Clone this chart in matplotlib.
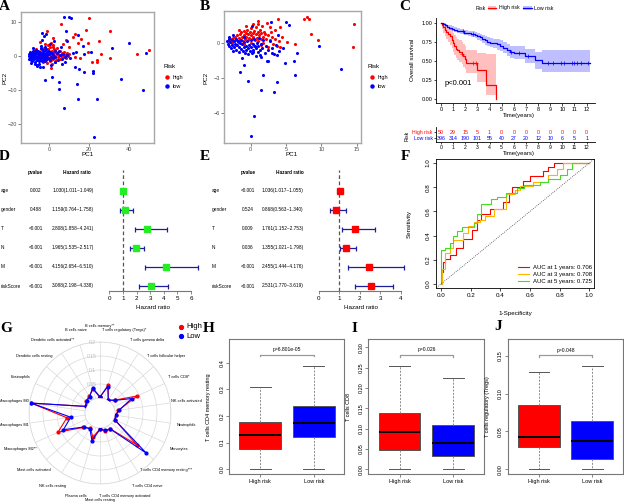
import numpy as np
import matplotlib
matplotlib.use('Agg')
import matplotlib.pyplot as plt
from matplotlib.lines import Line2D
from matplotlib.patches import Patch
from matplotlib.legend_handler import HandlerTuple
import matplotlib.transforms as mtransforms

plt.rcParams['font.family'] = ['Liberation Sans', 'DejaVu Sans']

# ---------------- DATA ----------------
# A: PCA (all genes)
a_high_x = [-8,-7.5,-7,-6.5,-6,-6,-5.5,-5,-5,-4.5,-4.2,-4,-3.8,-3.5,-3.2,-3,-2.8,-2.5,-2.3,-2,-2,-1.8,-1.5,-1.2,-1,-0.8,-0.5,-0.3,0,0,0.3,0.5,0.8,1,1.2,1.5,1.8,2,2.2,2.5,2.8,3,3.2,3.5,3.8,4,4.3,4.6,5,5.3,5.6,6,6.5,7,7.5,8,8.5,9,9.5,10,-1,1.5,-3,0.5,3,-6.5,-2,1,-0.5,2.5,-9,-8.5,
            6,20.2,18.3,30.5,13.2,16.2,25,19.3,14.3,19.7,26,24.2,24.2,30.5,44.2,49.8,21.3,11.8,10,8.5,7.2,2.2,-1.2,-4.5,-7,2.2,0.8,13,15.5,8.8,6.3]
a_high_y = [0.5,-0.5,1,0,-1,1.5,0.5,-0.5,1.2,0.2,-1.2,2,0.8,-0.3,1.5,0.3,-0.8,2.5,1,-0.2,0.6,1.8,-1,0.3,1.2,-0.4,2.2,0.5,-0.6,1.5,0.2,2.8,-1.2,0.8,-0.2,1.6,0.4,-0.8,3.2,0.9,-0.3,1.8,0.1,-1,0.6,2.4,-0.2,1.1,0.3,-0.9,1.4,0,0.7,-0.4,1.3,0.2,-0.6,0.9,-0.1,0.5,-2,-2.3,-1.8,-1.5,-1.6,2.2,3.5,4,3.2,2,0.2,-0.8,
            9.6,11.3,7.8,7.5,6.4,4.9,4.5,3.9,3.9,1.3,0.5,-1.2,-1.8,-0.7,0.5,1.8,-1.7,5.5,2.7,4.7,3.7,5.2,7.5,4.2,1.8,2.7,-3.6,-0.2,-0.7,0.3,0.8]
a_low_x = [-10,-10,-9.8,-9.5,-9.5,-9.2,-9,-8.8,-8.6,-8.5,-8.3,-8,-8,-7.8,-7.6,-7.5,-7.2,-7,-7,-6.8,-6.5,-6.5,-6.2,-6,-5.8,-5.5,-5.5,-5.2,-5,-4.8,-4.5,-4.5,-4.2,-4,-4,-3.8,-3.5,-3.5,-3.2,-3,-2.8,-2.5,-2.5,-2.2,-2,-1.8,-1.5,-1.5,-1.2,-1,-0.8,-0.5,-0.3,0,0.3,0.5,1,1.3,1.8,2.2,2.8,3.2,4,4.5,5.5,6.5,7.2,8,9,-9,-7,-5,-3,-6,-4,-2,0.5,-8,1,3,
           7.7,10.2,10.8,8.5,-3.3,-2.3,-1.5,14.7,8.8,17.2,13.5,17.5,20.8,40.2,31.7,48.5,2.7,5.2,11.8,13,14.8,17.5,21.8,22,-2,1.3,5.2,4.8,14,35.8,46.8,14.5,23.8,7.7,22.5,10.5,6.5,8,-4.5,-6.2,-3.7,6]
a_low_y = [0,-0.8,0.6,-0.3,1.2,-1.2,0.3,-0.6,1,0,-1.5,0.6,-0.3,1.6,-0.9,0.2,1.1,-0.5,-1.6,0.5,1.8,-0.2,-1.1,0.8,-0.6,1.5,0,-1.4,0.6,-0.4,1.2,-1,0.2,2.3,-0.6,1,-1.5,0.4,1.8,-0.2,0.9,-0.8,1.5,0.2,-1.3,0.7,2,-0.3,1.1,-0.9,0.3,1.6,-0.5,0.6,-1.2,1.2,-0.2,0.9,-0.6,0.4,1.5,-0.4,0.8,-1.2,0.2,-0.8,0.6,-0.2,0.4,-2,-2.4,-2.2,-3.2,-3,3,2.8,3.5,2.5,-2.5,-1.8,
           11.4,11.6,11.1,7.4,6.7,5.9,6.4,6.2,4.4,2.9,1.3,0.6,1.1,3.9,2.5,1.0,4.4,1.6,1.0,-3.1,-3.9,-4.6,-4.4,-4.9,-6.9,-6.3,-7.6,-9.6,-8.3,-6.8,-10,-12.6,-12.6,-15.4,-23.8,-0.7,-2.2,-1.7,-3.1,-2.6,4.7,2.7]

# B: PCA (model genes)
b_high_x = [-3,-2.8,-2.6,-2.5,-2.3,-2.2,-2,-1.9,-1.8,-1.7,-1.5,-1.5,-1.3,-1.2,-1.1,-1,-0.9,-0.8,-0.7,-0.6,-0.5,-0.4,-0.3,-0.2,-0.1,0,0.1,0.2,0.3,0.4,0.5,0.6,0.7,0.8,0.9,1,1.1,1.2,1.3,1.4,1.5,1.6,1.7,1.8,2,2.2,2.5,2.8,3,3.2,3.5,3.8,4,-2,-1,0,0.5,1.5,2.5,-0.6,0.3,1.0,-1.6,
            3.81,7.53,7.9,8.28,8.52,9.46,14.6,14.5,6.26,5.2,4.14,4.46,2.87,2.77,2.26,1.07,1.92,4.14,3.43]
b_high_y = [0.1,0.3,0,0.4,0.15,0.5,0.25,0.6,0.05,0.4,0.7,0.2,0.9,0.45,0.1,0.65,1.0,0.3,0.8,0.5,1.1,0.2,0.7,0.4,0.9,0.6,1.2,0.3,0.8,0.5,1.0,0.2,0.7,1.3,0.4,0.9,0.1,0.6,1.1,0.3,0.8,1.4,0.5,0.0,0.7,0.3,0.6,0.2,0.5,-0.1,0.3,-0.3,0.1,-0.2,-0.1,0.0,-0.3,-0.2,-0.4,1.4,1.6,1.8,1.1,
            2.0,2.0,2.19,1.97,0.73,0.2,1.55,-0.36,-0.11,0.08,-0.34,0.45,0.88,1.35,1.69,1.58,0.93,1.35,1.07]
b_low_x = [-3.3,-3.2,-3.1,-3,-2.9,-2.8,-2.7,-2.6,-2.5,-2.4,-2.3,-2.2,-2.1,-2,-1.9,-1.8,-1.7,-1.6,-1.5,-1.4,-1.3,-1.2,-1.1,-1,-0.9,-0.8,-0.7,-0.6,-0.5,-0.4,-0.3,-0.2,-0.1,0,0.1,0.2,0.3,0.4,0.5,0.6,0.7,0.8,0.9,1,1.1,1.2,1.3,1.4,1.5,1.6,1.8,2.0,2.2,2.5,2.8,3.0,3.3,3.6,4,-2.5,-1,-3,
           0.23,2.87,4.99,5.41,3.9,9.65,12.75,6.49,6.16,6.34,-1.51,-0.9,-0.43,1.78,1.41,3.34,3.76,0.47,0.0,2.26,2.49,4.85,4.52,2.97,1.31,-1.28,0.37,3.67]
b_low_y = [0.1,-0.1,0.3,-0.3,0.05,-0.5,0.2,-0.2,-0.7,0.1,-0.4,-0.1,0.3,-0.6,-0.2,0.15,-0.8,-0.35,0.0,-0.55,0.25,-0.15,-0.7,-0.4,0.05,-0.9,-0.25,-0.6,0.1,-0.45,-1.0,-0.2,-0.7,0.2,-0.4,-0.85,-0.1,-0.6,0.3,-0.3,-1.1,-0.5,0.0,-0.8,-0.3,0.4,-0.6,-1.2,-0.1,-0.5,0.2,-0.9,-0.3,-0.6,0.1,-0.5,-1.0,-0.2,-0.7,0.6,0.5,0.5,
           1.43,1.72,1.77,1.49,0.65,-0.28,-2.22,-0.9,-1.6,-2.73,-2.53,-1.88,-3.23,-2.75,-3.99,-4.22,-3.37,-6.24,-7.93,-1.54,-1.52,-1.74,-0.48,-0.9,-1.04,-1.32,-0.76,-1.04]

# C: Kaplan-Meier
high_t  = [0, 0.1, 0.2, 0.3, 0.45, 0.6, 0.75, 0.9, 1.0, 1.1, 1.2, 1.35, 1.5, 1.7, 1.85, 1.95, 2.05, 3.0, 3.75, 4.55]
high_s  = [1.0, 0.97, 0.94, 0.91, 0.88, 0.85, 0.82, 0.78, 0.74, 0.70, 0.66, 0.64, 0.62, 0.59, 0.56, 0.52, 0.48, 0.38, 0.19, 0.0]
high_lo = [1.0, 0.92, 0.87, 0.83, 0.79, 0.75, 0.71, 0.67, 0.62, 0.58, 0.54, 0.51, 0.49, 0.46, 0.42, 0.39, 0.34, 0.23, 0.06, 0.0]
high_hi = [1.0, 1.0, 1.0, 0.99, 0.97, 0.95, 0.93, 0.90, 0.87, 0.84, 0.81, 0.79, 0.77, 0.75, 0.72, 0.69, 0.65, 0.60, 0.59, 0.0]
low_t  = [0, 0.15, 0.3, 0.5, 0.7, 0.9, 1.1, 1.3, 1.6, 1.9, 2.2, 2.5, 2.8, 3.0, 3.2, 3.4, 3.6, 3.8, 4.0, 4.3, 4.6, 4.9, 5.1, 5.4, 5.7, 6.0, 6.9, 7.75, 8.3, 12.3]
low_s  = [1.0, 0.98, 0.965, 0.95, 0.935, 0.92, 0.905, 0.895, 0.885, 0.87, 0.86, 0.85, 0.84, 0.83, 0.81, 0.79, 0.77, 0.75, 0.74, 0.73, 0.72, 0.70, 0.67, 0.645, 0.62, 0.61, 0.565, 0.51, 0.475, 0.475]
low_lo = [1.0, 0.97, 0.95, 0.93, 0.91, 0.895, 0.88, 0.865, 0.85, 0.835, 0.82, 0.81, 0.795, 0.78, 0.76, 0.74, 0.715, 0.69, 0.68, 0.665, 0.65, 0.63, 0.60, 0.57, 0.54, 0.53, 0.47, 0.39, 0.35, 0.35]
low_hi = [1.0, 0.995, 0.985, 0.975, 0.965, 0.955, 0.94, 0.93, 0.92, 0.905, 0.895, 0.885, 0.88, 0.87, 0.855, 0.84, 0.82, 0.81, 0.80, 0.79, 0.785, 0.77, 0.745, 0.72, 0.70, 0.69, 0.66, 0.62, 0.645, 0.645]
high_cens = [1.7, 2.6, 2.9]
low_cens = [1.8, 2.6, 5.8, 6.4, 7.2, 8.8, 9.2, 9.9, 10.1, 10.8, 11.0, 11.2, 11.5, 12.1]
risk_times = list(range(13))
risk_high = [50, 29, 15, 5, 1, 0, 0, 0, 0, 0, 0, 0, 0]
risk_low = [396, 314, 190, 101, 55, 40, 27, 20, 12, 10, 6, 5, 1]

# D / E: forest plots
forest_names_d = ['age', 'gender', 'T', 'N', 'M', 'riskScore']
forest_p_d = ['0.002', '0.488', '<0.001', '<0.001', '<0.001', '<0.001']
forest_hr_d = [1.030, 1.159, 2.808, 1.965, 4.156, 3.088]
forest_lo_d = [1.011, 0.764, 1.858, 1.535, 2.654, 2.198]
forest_hi_d = [1.049, 1.758, 4.241, 2.517, 6.510, 4.338]
forest_names_e = ['age', 'gender', 'T', 'N', 'M', 'riskScore']
forest_p_e = ['<0.001', '0.524', '0.009', '0.036', '<0.001', '<0.001']
forest_hr_e = [1.036, 0.868, 1.761, 1.355, 2.455, 2.531]
forest_lo_e = [1.017, 0.563, 1.152, 1.021, 1.444, 1.770]
forest_hi_e = [1.055, 1.340, 2.753, 1.798, 4.176, 3.619]

# F: ROC
roc1_fpr = [0, 0.005, 0.005, 0.015, 0.015, 0.03, 0.03, 0.06, 0.06, 0.10, 0.10, 0.15, 0.15, 0.21, 0.21, 0.24, 0.24, 0.27, 0.27, 0.33, 0.33, 0.42, 0.42, 0.46, 0.46, 0.48, 0.48, 0.55, 0.55, 0.60, 0.60, 0.69, 0.69, 0.72, 0.72, 0.76, 0.76, 1.0]
roc1_tpr = [0, 0, 0.10, 0.10, 0.18, 0.18, 0.21, 0.21, 0.24, 0.24, 0.30, 0.30, 0.37, 0.37, 0.45, 0.45, 0.53, 0.53, 0.58, 0.58, 0.62, 0.62, 0.68, 0.68, 0.74, 0.74, 0.80, 0.80, 0.85, 0.85, 0.89, 0.89, 0.93, 0.93, 0.97, 0.97, 1.0, 1.0]
roc3_fpr = [0, 0.01, 0.01, 0.03, 0.03, 0.06, 0.06, 0.08, 0.08, 0.15, 0.15, 0.18, 0.18, 0.22, 0.22, 0.26, 0.26, 0.30, 0.30, 0.36, 0.36, 0.44, 0.44, 0.50, 0.50, 0.53, 0.53, 0.62, 0.62, 0.72, 0.72, 0.78, 0.78, 0.82, 0.82, 1.0]
roc3_tpr = [0, 0, 0.12, 0.12, 0.26, 0.26, 0.30, 0.30, 0.36, 0.36, 0.42, 0.42, 0.48, 0.48, 0.51, 0.51, 0.53, 0.53, 0.56, 0.56, 0.62, 0.62, 0.74, 0.74, 0.78, 0.78, 0.81, 0.81, 0.84, 0.84, 0.90, 0.90, 0.95, 0.95, 1.0, 1.0]
roc5_fpr = [0, 0, 0.03, 0.03, 0.06, 0.06, 0.08, 0.08, 0.11, 0.11, 0.14, 0.14, 0.22, 0.22, 0.24, 0.24, 0.27, 0.27, 0.34, 0.34, 0.38, 0.38, 0.44, 0.44, 0.51, 0.51, 0.56, 0.56, 0.67, 0.67, 0.72, 0.72, 0.80, 0.80, 0.85, 0.85, 0.88, 0.88, 1.0]
roc5_tpr = [0, 0.28, 0.28, 0.30, 0.30, 0.34, 0.34, 0.40, 0.40, 0.44, 0.44, 0.47, 0.47, 0.50, 0.50, 0.58, 0.58, 0.66, 0.66, 0.70, 0.70, 0.72, 0.72, 0.75, 0.75, 0.79, 0.79, 0.82, 0.82, 0.84, 0.84, 0.87, 0.87, 0.90, 0.90, 0.95, 0.95, 1.0, 1.0]
roc_labels = ['AUC at 1 years: 0.706', 'AUC at 3 years: 0.708', 'AUC at 5 years: 0.725']

# G: radar
cells = ['B cells memory**', 'T cells regulatory (Tregs)*', 'T cells gamma delta', 'T cells follicular helper',
         'T cells CD8*', 'NK cells activated', 'Neutrophils', 'Monocytes', 'T cells CD4 memory resting***',
         'T cells CD4 naive', 'T cells CD4 memory activated', 'Mast cells resting', 'Plasma cells',
         'NK cells resting', 'Mast cells activated', 'Macrophages M2**', 'Macrophages M1', 'Macrophages M0',
         'Eosinophils', 'Dendritic cells resting', 'Dendritic cells activated**', 'B cells naive']
radar_high = [0.002, 0.052, 0.001, 0.017, 0.093, 0.012, 0.003, 0.004, 0.120, 0.013, 0.015, 0.003, 0.036, 0.011, 0.025, 0.111, 0.066, 0.195, 0.003, 0.012, 0.018, 0.035]
radar_low  = [0.004, 0.045, 0.001, 0.015, 0.071, 0.015, 0.003, 0.004, 0.165, 0.015, 0.010, 0.005, 0.049, 0.013, 0.023, 0.090, 0.052, 0.195, 0.003, 0.010, 0.015, 0.040]

# H, I, J: boxplots (med, q1, q3, whislo, whishi) for High risk / Low risk
box_h_high = [0.129, 0.075, 0.176, 0.0, 0.309]
box_h_low  = [0.172, 0.122, 0.239, 0.0, 0.389]
box_i_high = [0.091, 0.0475, 0.138, 0.0, 0.255]
box_i_low  = [0.0655, 0.033, 0.109, 0.0, 0.224]
box_j_high = [0.043, 0.0298, 0.0847, 0.0, 0.1285]
box_j_low  = [0.0373, 0.0132, 0.0636, 0.0, 0.137]
box_groups = ['High risk', 'Low risk']

# ---------------- FIGURE ----------------
W, H = 624, 504
fig = plt.figure(figsize=(6.24, 5.04), dpi=100)

def rect(l, t, r, b):
    return [l / W, 1 - b / H, (r - l) / W, (b - t) / H]

def ftext(x, y, s, **kw):
    kw.setdefault('va', 'center')
    kw.setdefault('ha', 'center')
    return fig.text(x / W, 1 - y / H, s, **kw)

RED = '#FF0000'
BLUE = '#0000FF'
serif = ['Liberation Serif', 'DejaVu Serif']

for s, x, y in [('A', 4, 6), ('B', 205, 6), ('C', 405, 6), ('D', 4, 157), ('E', 205, 157),
                ('F', 405, 157), ('G', 6, 328), ('H', 209, 328), ('I', 354, 328), ('J', 498, 327)]:
    ftext(x, y, s, fontsize=11, fontweight='bold', family=serif)

# ---- A & B ----
def pca(r, hx, hy, lx, ly, xlim, ylim, xt, yt, xlab_pos, ylab_pos, leg_pos):
    ax = fig.add_axes(rect(*r))
    ax.scatter(hx, hy, s=5, c=RED, lw=0)
    ax.scatter(lx, ly, s=5, c=BLUE, lw=0)
    ax.set_xlim(*xlim); ax.set_ylim(*ylim)
    ax.set_xticks(xt); ax.set_yticks(yt)
    ax.tick_params(labelsize=4, length=2, width=0.5, color='#4D4D4D', labelcolor='#4D4D4D', pad=1)
    for sp in ax.spines.values():
        sp.set_color('#A8A8A8'); sp.set_linewidth(1.0)
    ftext(*xlab_pos, 'PC1', fontsize=4.5)
    ftext(*ylab_pos, 'PC2', fontsize=4.5, rotation=90)
    ftext(leg_pos[0], leg_pos[1], 'Risk', fontsize=4.5, ha='left')
    for k, (lab, col) in enumerate([('high', RED), ('low', BLUE)]):
        yy = leg_pos[1] + 10 + 9 * k
        fig.add_artist(Line2D([(leg_pos[0] + 4) / W], [1 - yy / H], marker='o', ms=2.2, color=col, lw=0,
                              transform=fig.transFigure))
        ftext(leg_pos[0] + 10, yy, lab, fontsize=4, ha='left')
    return ax

pca((21, 12, 154, 143), a_high_x, a_high_y, a_low_x, a_low_y, (-14, 52.5), (-25.6, 13),
    [0, 20, 40], [-20, -10, 0, 10], (88, 154), (5, 78), (163, 67))
pca((224, 11, 361, 143), b_high_x, b_high_y, b_low_x, b_low_y, (-3.76, 15.6), (-8.5, 2.67),
    [0, 5, 10, 15], [-6, -3, 0], (292, 154), (206, 78), (368, 67))

# ---- C ----
axc = fig.add_axes(rect(436, 18, 595, 103))
axc.fill_between(high_t, high_lo, high_hi, step='post', color=RED, alpha=0.25, lw=0)
axc.fill_between(low_t, low_lo, low_hi, step='post', color=BLUE, alpha=0.25, lw=0)
axc.step(high_t, high_s, where='post', color=RED, lw=0.9)
axc.step(low_t, low_s, where='post', color=BLUE, lw=0.9)
def surv_at(ts, ss, t):
    i = np.searchsorted(ts, t, side='right') - 1
    return np.array(ss)[i]
axc.plot(high_cens, surv_at(high_t, high_s, high_cens), '+', color=RED, ms=2.5, mew=0.5)
axc.plot(low_cens, surv_at(low_t, low_s, low_cens), '+', color=BLUE, ms=2.5, mew=0.5)
axc.set_xlim(-0.41, 12.69); axc.set_ylim(-0.048, 1.061)
axc.set_xticks(risk_times); axc.set_yticks([0, 0.25, 0.5, 0.75, 1.0])
axc.set_yticklabels(['0.00', '0.25', '0.50', '0.75', '1.00'])
axc.spines['top'].set_visible(False); axc.spines['right'].set_visible(False)
for sp in ['left', 'bottom']:
    axc.spines[sp].set_linewidth(0.6)
axc.tick_params(labelsize=4, length=1.8, width=0.5, pad=0.8)
axc.text(0.3, 0.2, 'p<0.001', fontsize=5.5, ha='left', va='center')
ftext(412, 60, 'Overall survival', fontsize=4.5, rotation=90)
ftext(519, 115.5, 'Time(years)', fontsize=4.3)
ftext(486, 8, 'Risk', fontsize=3.8, ha='right')
hh = [(Patch(color=RED, alpha=0.25, lw=0), Line2D([], [], color=RED, lw=0.9)),
      (Patch(color=BLUE, alpha=0.25, lw=0), Line2D([], [], color=BLUE, lw=0.9))]
fig.legend(hh, ['High risk', 'Low risk'], handler_map={tuple: HandlerTuple(ndivide=1)},
           loc='center left', bbox_to_anchor=(488 / W, 1 - 8 / H), ncol=2, frameon=False,
           fontsize=3.8, handlelength=1.6, handletextpad=0.4, columnspacing=0.8, borderaxespad=0, borderpad=0)

axt = fig.add_axes(rect(436, 127, 595, 142))
axt.set_xlim(-0.41, 12.69); axt.set_ylim(0, 1)
for t, n1, n2 in zip(risk_times, risk_high, risk_low):
    axt.text(t, 0.64, str(n1), color=RED, fontsize=3.8, ha='center', va='center')
    axt.text(t, 0.24, str(n2), color=BLUE, fontsize=3.8, ha='center', va='center')
axt.set_xticks(risk_times)
axt.set_yticks([0.64, 0.24]); axt.set_yticklabels(['High risk', 'Low risk'])
for lab, col in zip(axt.get_yticklabels(), [RED, BLUE]):
    lab.set_color(col)
axt.spines['top'].set_visible(False); axt.spines['right'].set_visible(False)
for sp in ['left', 'bottom']:
    axt.spines[sp].set_linewidth(0.6)
axt.tick_params(labelsize=3.7, length=1.5, width=0.5, pad=0.8)
ftext(519, 153.5, 'Time(years)', fontsize=4.3)
ftext(407, 136, 'Risk', fontsize=3.8, rotation=90)

# ---- D & E ----
def forest(l, r_px, x0_px, px_per, names, pv, hr, lo, hi, color, name_x, p_x, hr_x, hp_x, hh_x, xmax_tick):
    ax = fig.add_axes(rect(l, 170, r_px, 290.7))
    rows = np.arange(len(names))
    hr = np.array(hr); lo = np.array(lo); hi = np.array(hi)
    ax.axvline(1, color='#555555', ls=(0, (3, 2)), lw=0.9)
    ax.errorbar(hr, rows, xerr=[hr - lo, hi - hr], fmt='none', ecolor='#1E1E9A', elinewidth=0.9,
                capsize=1.8, capthick=0.9)
    ax.plot(hr, rows, 's', color=color, ms=4.5, mec=color)
    ax.set_xlim((l - x0_px) / px_per, (r_px - x0_px) / px_per)
    ax.set_ylim((290.7 - 190.7) / 19.06, (170 - 190.7) / 19.06)
    for sp in ['top', 'right', 'left']:
        ax.spines[sp].set_visible(False)
    ax.spines['bottom'].set_bounds(0, xmax_tick)
    ax.spines['bottom'].set_color('#777777')
    ax.set_yticks([])
    ax.set_xticks(range(xmax_tick + 1))
    ax.tick_params(axis='x', labelsize=4.5, length=2.5, width=0.6, color='#777777', pad=1.5)
    ax.set_xlabel('Hazard ratio', fontsize=4.5, labelpad=3)
    tr = mtransforms.blended_transform_factory(fig.transFigure, ax.transData)
    for i in rows:
        ax.text(name_x / W, i, names[i], transform=tr, fontsize=3.4, ha='left', va='center')
        ax.text(p_x / W, i, pv[i], transform=tr, fontsize=3.4, ha='center', va='center')
        ax.text(hr_x / W, i, '%.3f(%.3f~%.3f)' % (hr[i], lo[i], hi[i]), transform=tr, fontsize=3.4,
                ha='center', va='center')
    ax.text(hp_x / W, -0.98, 'pvalue', transform=tr, fontsize=3.4, ha='center', va='center', fontweight='bold')
    ax.text(hh_x / W, -0.98, 'Hazard ratio', transform=tr, fontsize=3.4, ha='center', va='center', fontweight='bold')
    return ax

forest(104, 202, 109.3, 13.6, forest_names_d, forest_p_d, forest_hr_d, forest_lo_d, forest_hi_d,
       '#22EE22', 1, 36, 73, 35, 77, 6)
forest(313, 410, 318.7, 20.5, forest_names_e, forest_p_e, forest_hr_e, forest_lo_e, forest_hi_e,
       RED, 212, 248, 283, 248, 290, 4)

# ---- F ----
axf = fig.add_axes(rect(436, 159, 594, 287.7))
axf.plot(roc1_fpr, roc1_tpr, color=RED, lw=0.8, label=roc_labels[0])
axf.plot(roc3_fpr, roc3_tpr, color='#FFB400', lw=0.8, label=roc_labels[1])
axf.plot(roc5_fpr, roc5_tpr, color='#44DD22', lw=0.8, label=roc_labels[2])
axf.axline((0, 0), (1, 1), ls=(0, (1, 1.5)), color='#444444', lw=0.6)
axf.set_xlim(-0.0337, 1.0317); axf.set_ylim(-0.0306, 1.033)
axf.set_xticks([0, 0.2, 0.4, 0.6, 0.8, 1.0]); axf.set_yticks([0, 0.2, 0.4, 0.6, 0.8, 1.0])
axf.set_xticklabels(['0.0', '0.2', '0.4', '0.6', '0.8', '1.0'])
axf.set_yticklabels(['0.0', '0.2', '0.4', '0.6', '0.8', '1.0'], rotation=90, va='center')
axf.tick_params(labelsize=4.5, length=2.5, width=0.5, pad=1.5)
for sp in axf.spines.values():
    sp.set_linewidth(0.6)
axf.legend(loc='lower right', bbox_to_anchor=(593 / W, 1 - 285 / H), bbox_transform=fig.transFigure,
           frameon=False, fontsize=4.3, handlelength=1.7, handletextpad=0.7, labelspacing=0.25,
           borderaxespad=0, borderpad=0.2)
ftext(515, 313, '1-Specificity', fontsize=4.5)
ftext(409, 224, 'Sensitivity', fontsize=4.5, rotation=90)

# ---- G ----
cx, cy, R = 100, 413, 71
axg = fig.add_axes(rect(cx - R, cy - R, cx + R, cy + R), projection='polar')
axg.set_theta_zero_location('N'); axg.set_theta_direction(-1)
axg.set_ylim(0, 0.2)
r_org = -0.2 * 15 / 56
axg.set_rorigin(r_org)
theta = np.arange(len(cells)) * 2 * np.pi / len(cells)
axg.set_xticks(theta); axg.set_xticklabels([])
axg.set_yticks([0, 0.05, 0.1, 0.15, 0.2]); axg.set_yticklabels([])
axg.grid(color='#D9D9D9', lw=0.5)
for k in axg.spines:
    axg.spines[k].set_color('#D9D9D9'); axg.spines[k].set_linewidth(0.5)
tc = np.append(theta, theta[0])
axg.plot(tc, np.append(radar_high, radar_high[0]), color=RED, lw=0.8, marker='o', ms=2, zorder=3)
axg.plot(tc, np.append(radar_low, radar_low[0]), color=BLUE, lw=0.8, marker='o', ms=2, zorder=4)
r_lab = r_org + (0.2 - r_org) * 87 / R
for th, lab in zip(theta, cells):
    axg.text(th, r_lab, lab, fontsize=2.8, ha='center', va='center', clip_on=False)
off = mtransforms.offset_copy(axg.transData, fig=fig, x=-8, y=0, units='dots')
for v, s in zip([0, 0.05, 0.1, 0.15, 0.2], ['0', '0.05', '0.1', '0.15', '0.2']):
    axg.text(0, v, s, transform=off, fontsize=3.6, color='#BBBBBB', ha='center', va='center')
for k, (lab, col) in enumerate([('High', RED), ('Low', BLUE)]):
    yy = 327 + 9 * k
    fig.add_artist(Line2D([181 / W], [1 - yy / H], marker='o', ms=2.8, color=col, lw=0, transform=fig.transFigure))
    ftext(186, yy, lab, fontsize=5.5, ha='left')

# ---- H, I, J ----
def boxpanel(r, ylim, hi_st, lo_st, yt, ytl, ylabel, ylab_x, ptxt, pby):
    ax = fig.add_axes(rect(*r))
    stats = []
    for st in (hi_st, lo_st):
        stats.append(dict(med=st[0], q1=st[1], q3=st[2], whislo=st[3], whishi=st[4], fliers=[]))
    bp = ax.bxp(stats, positions=[1, 2], widths=0.78, patch_artist=True, showfliers=False,
                boxprops=dict(edgecolor='#555555', lw=0.7),
                medianprops=dict(color='black', lw=1.4),
                whiskerprops=dict(color='#888888', ls=(0, (2, 1.5)), lw=0.7),
                capprops=dict(color='#555555', lw=0.7), capwidths=0.39)
    for patch, col in zip(bp['boxes'], [RED, BLUE]):
        patch.set_facecolor(col)
    ax.set_xlim(0.42, 2.57); ax.set_ylim(*ylim)
    ax.set_xticks([1, 2]); ax.set_xticklabels(box_groups)
    ax.set_yticks(yt); ax.set_yticklabels(ytl, rotation=90, va='center')
    ax.tick_params(labelsize=4, length=2, width=0.5, pad=1.5, color='#555555')
    for sp in ax.spines.values():
        sp.set_color('#777777'); sp.set_linewidth(0.8)
    d = (ylim[1] - ylim[0]) * 0.012
    ax.plot([1, 1, 2, 2], [pby - d, pby, pby, pby - d], color='#999999', lw=0.9)
    ax.text(1.5, pby + (ylim[1] - ylim[0]) * 0.02, ptxt, fontsize=3.6, ha='center', va='bottom')
    ftext(ylab_x, 407, ylabel, fontsize=4, rotation=90)
    return ax

boxpanel((229.3, 339.3, 344.3, 474.3), (-0.019, 0.488), box_h_high, box_h_low,
         [0, 0.1, 0.2, 0.3, 0.4], ['0.0', '0.1', '0.2', '0.3', '0.4'],
         'T cells CD4 memory resting', 209, 'p=6.801e-05', 0.43)
boxpanel((368.3, 339.3, 484, 474.3), (-0.012, 0.320), box_i_high, box_i_low,
         [0, 0.05, 0.1, 0.15, 0.2, 0.25, 0.3], ['0.00', '0.05', '0.10', '0.15', '0.20', '0.25', '0.30'],
         'T cells CD8', 349, 'p=0.026', 0.281)
boxpanel((508, 339.3, 622.5, 474.3), (-0.0066, 0.1716), box_j_high, box_j_low,
         [0, 0.05, 0.1, 0.15], ['0.00', '0.05', '0.10', '0.15'],
         'T cells regulatory (Tregs)', 488, 'p=0.048', 0.1504)

fig.savefig('out.png', dpi=100)
